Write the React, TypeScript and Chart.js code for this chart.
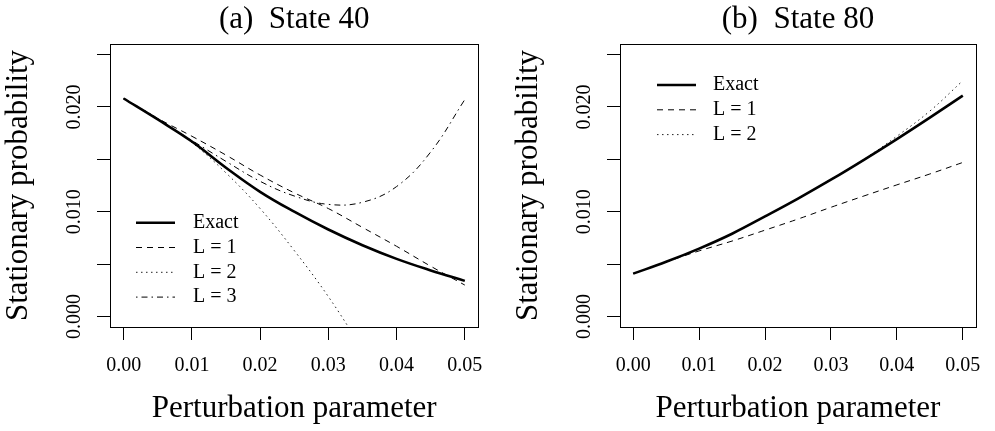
import React, { useEffect, useRef } from "react";
import { Chart, registerables } from "chart.js";

Chart.register(...registerables);

// ---------- data ----------
const X_VALUES = [0, 0.005, 0.01, 0.015, 0.02, 0.025, 0.03, 0.035, 0.04, 0.045, 0.05];

// Panel (a) State 40
const A_EXACT = [0.0208, 0.0188, 0.0167, 0.0142, 0.0119, 0.01, 0.0083, 0.0068, 0.0055, 0.0044, 0.0034];
const A_L1 = [0.0208, 0.0189, 0.0172, 0.0154, 0.0135, 0.0118, 0.0103, 0.0085, 0.0067, 0.0048, 0.003];
const A_L2 = [0.0208, 0.0189, 0.0166, 0.0137, 0.0103, 0.0063, 0.0019, -0.0031, null, null, null];
const A_L3 = [0.0208, 0.0188, 0.0168, 0.0148, 0.0129, 0.0115, 0.0107, 0.0109, 0.0124, 0.0157, 0.0207];

// Panel (b) State 80
const B_EXACT = [0.00409, 0.00522, 0.00648, 0.0079, 0.00955, 0.01125, 0.01305, 0.01495, 0.01693, 0.01898, 0.02108];
const B_L1 = [0.00409, 0.0052, 0.00626, 0.0072, 0.00824, 0.0093, 0.01042, 0.0115, 0.01256, 0.0136, 0.0147];
const B_L2 = [0.00409, 0.00522, 0.00648, 0.0079, 0.00955, 0.01127, 0.0131, 0.015, 0.0172, 0.0196, 0.0225];

const X_TICKS = [0, 0.01, 0.02, 0.03, 0.04, 0.05];
const X_TICK_LABELS = ["0.00", "0.01", "0.02", "0.03", "0.04", "0.05"];
const Y_TICKS = [0, 0.005, 0.01, 0.015, 0.02, 0.025];
const Y_TICK_LABELS = ["0.000", "", "0.010", "", "0.020", ""];

const TITLE_A = "(a)  State 40";
const TITLE_B = "(b)  State 80";
const X_TITLE = "Perturbation parameter";
const Y_TITLE = "Stationary probability";

// ---------- styles ----------
const FONT = "'Liberation Serif', 'Times New Roman', serif";
const BIG = 31;

const STYLE_EXACT = { borderColor: "#000", borderWidth: 2.6, borderDash: [] as number[] };
const STYLE_L1 = { borderColor: "#000", borderWidth: 1, borderDash: [6, 5] };
const STYLE_L2 = { borderColor: "#222", borderWidth: 1, borderDash: [1.5, 3.5] };
const STYLE_L3 = { borderColor: "#000", borderWidth: 1, borderDash: [1.5, 4, 6, 4] };

function series(label: string, ys: (number | null)[], style: any) {
  return {
    label,
    data: X_VALUES.map((x, i) => ({ x, y: ys[i] })),
    ...style,
    pointRadius: 0,
    fill: false,
    tension: 0.4,
    spanGaps: false,
  };
}

const boxPlugin = {
  id: "rBox",
  afterDatasetsDraw(chart: any) {
    const { ctx, chartArea } = chart;
    ctx.save();
    ctx.strokeStyle = "#000";
    ctx.lineWidth = 1;
    ctx.setLineDash([]);
    ctx.strokeRect(
      Math.round(chartArea.left) + 0.5,
      Math.round(chartArea.top) + 0.5,
      Math.round(chartArea.right - chartArea.left),
      Math.round(chartArea.bottom - chartArea.top)
    );
    ctx.restore();
  },
};

const legendPlugin = {
  id: "rLegend",
  afterDatasetsDraw(chart: any, _args: any, opts: any) {
    const { ctx, chartArea } = chart;
    chart.data.datasets.forEach((ds: any, i: number) => {
      const y = chartArea.top + opts.top + i * opts.rowGap;
      ctx.save();
      ctx.strokeStyle = ds.borderColor;
      ctx.lineWidth = ds.borderWidth;
      ctx.setLineDash(ds.borderDash || []);
      ctx.beginPath();
      ctx.moveTo(chartArea.left + opts.lineStart, y);
      ctx.lineTo(chartArea.left + opts.lineEnd, y);
      ctx.stroke();
      ctx.setLineDash([]);
      ctx.fillStyle = "#000";
      ctx.font = `20px ${FONT}`;
      ctx.textBaseline = "middle";
      ctx.textAlign = "left";
      ctx.fillText(ds.label, chartArea.left + opts.textX, y);
      ctx.restore();
    });
  },
};

function makeConfig(p: {
  title: string;
  datasets: any[];
  yAxisWidth: number;
  rightPad: number;
  yTitlePad: number;
  legend: any;
}) {
  return {
    type: "line" as const,
    data: { datasets: p.datasets },
    plugins: [boxPlugin, legendPlugin],
    options: {
      animation: false as const,
      responsive: false,
      devicePixelRatio: 1,
      layout: { padding: { left: 0, right: p.rightPad, top: 0, bottom: 0 } },
      plugins: {
        legend: { display: false },
        tooltip: { enabled: false },
        title: {
          display: true,
          text: p.title,
          fullSize: false,
          color: "#000",
          font: { family: FONT, size: BIG, weight: "normal" as const, lineHeight: 1.2 },
          padding: { top: 1.5, bottom: 5.3 },
        },
        rLegend: p.legend,
      },
      scales: {
        x: {
          type: "linear" as const,
          min: -0.002,
          max: 0.052,
          afterBuildTicks: (s: any) => {
            s.ticks = X_TICKS.map((v) => ({ value: v }));
          },
          afterFit: (s: any) => {
            s.height = 104;
          },
          ticks: {
            callback: (_v: any, i: number) => X_TICK_LABELS[i],
            font: { family: FONT, size: 20 },
            color: "#000",
            padding: 14,
            maxRotation: 0,
            minRotation: 0,
            autoSkip: false,
          },
          grid: {
            display: true,
            drawOnChartArea: false,
            drawTicks: true,
            tickLength: 13,
            color: "#000",
            lineWidth: 1,
          },
          border: { display: false },
          title: {
            display: true,
            text: X_TITLE,
            color: "#000",
            font: { family: FONT, size: BIG },
            padding: { top: 0, bottom: 4 },
          },
        },
        y: {
          type: "linear" as const,
          min: -0.001,
          max: 0.026,
          afterBuildTicks: (s: any) => {
            s.ticks = Y_TICKS.map((v) => ({ value: v }));
          },
          afterFit: (s: any) => {
            s.width = p.yAxisWidth;
          },
          ticks: {
            callback: (_v: any, i: number) => Y_TICK_LABELS[i],
            font: { family: FONT, size: 20 },
            color: "#000",
            padding: 0,
            minRotation: 90,
            maxRotation: 90,
            crossAlign: "center" as const,
            autoSkip: false,
          },
          grid: {
            display: true,
            drawOnChartArea: false,
            drawTicks: true,
            tickLength: 13,
            color: "#000",
            lineWidth: 1,
          },
          border: { display: false },
          title: {
            display: true,
            text: Y_TITLE,
            color: "#000",
            font: { family: FONT, size: BIG },
            padding: { top: p.yTitlePad, bottom: 0 },
          },
        },
      },
    },
  };
}

function Panel(props: { config: any; left: number; width: number }) {
  const ref = useRef<HTMLCanvasElement | null>(null);
  useEffect(() => {
    if (!ref.current) return;
    const chart = new Chart(ref.current, props.config);
    return () => chart.destroy();
  }, []);
  return (
    <canvas
      ref={ref}
      width={props.width}
      height={431}
      style={{ position: "absolute", left: props.left, top: 0, width: props.width, height: 431 }}
    />
  );
}

export default function App() {
  useEffect(() => {
    document.body.style.margin = "0";
    document.body.style.background = "#fff";
  }, []);

  const configA = makeConfig({
    title: TITLE_A,
    datasets: [
      series("Exact", A_EXACT, STYLE_EXACT),
      series("L = 1", A_L1, STYLE_L1),
      series("L = 2", A_L2, STYLE_L2),
      series("L = 3", A_L3, STYLE_L3),
    ],
    yAxisWidth: 110,
    rightPad: 17,
    yTitlePad: 0.5,
    legend: { top: 178.7, rowGap: 24.8, lineStart: 26, lineEnd: 65, textX: 83 },
  });

  const configB = makeConfig({
    title: TITLE_B,
    datasets: [
      series("Exact", B_EXACT, STYLE_EXACT),
      series("L = 1", B_L1, STYLE_L1),
      series("L = 2", B_L2, STYLE_L2),
    ],
    yAxisWidth: 123,
    rightPad: 5,
    yTitlePad: 13.5,
    legend: { top: 41, rowGap: 24.8, lineStart: 37, lineEnd: 76, textX: 93 },
  });

  return (
    <div style={{ position: "relative", width: 995, height: 431, background: "#fff" }}>
      <Panel config={configA} left={0} width={497} />
      <Panel config={configB} left={497} width={498} />
    </div>
  );
}
